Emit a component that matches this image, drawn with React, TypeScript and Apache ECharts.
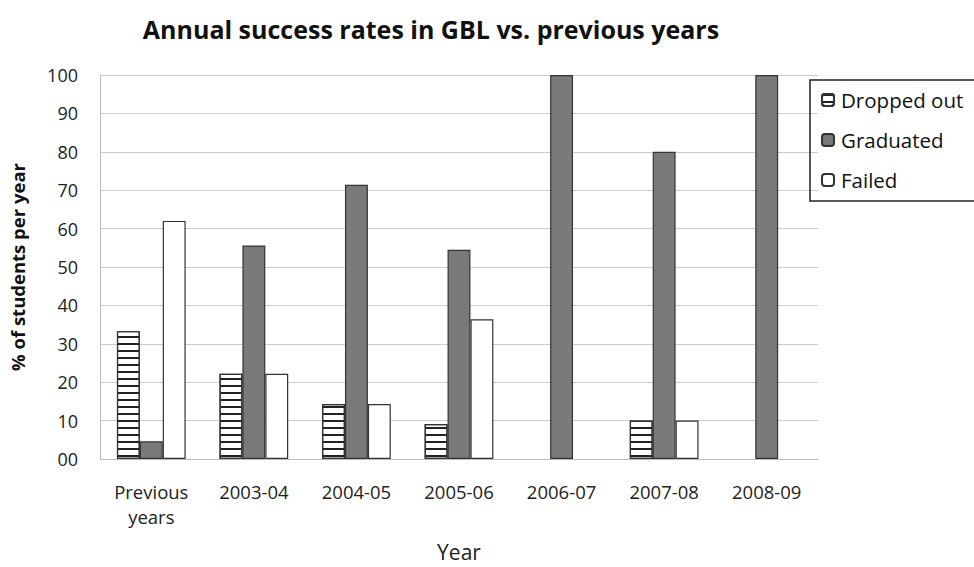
import React, { useEffect, useRef } from "react";
import * as echarts from "echarts";

const categories = ["Previous\nyears", "2003-04", "2004-05", "2005-06", "2006-07", "2007-08", "2008-09"];
const droppedOut = [33.3, 22.2, 14.3, 9.1, 0, 10, 0];
const graduated = [4.6, 55.6, 71.4, 54.5, 100, 80, 100];
const failed = [62, 22.2, 14.3, 36.4, 0, 10, 0];
const yTickLabels = ["00", "10", "20", "30", "40", "50", "60", "70", "80", "90", "100"];

const FONT = "'Open Sans', sans-serif";

const hideZero = (arr: number[]) => arr.map((v) => (v === 0 ? null : v));

export default function App() {
  const ref = useRef<HTMLDivElement>(null);
  useEffect(() => {
    if (!ref.current) return;
    const chart = echarts.init(ref.current, null, { renderer: "svg" });
    const border = { borderColor: "#333", borderWidth: 1.2 };
    chart.setOption({
      animation: false,
      backgroundColor: "#fff",
      title: {
        text: "Annual success rates in GBL vs. previous years",
        left: 426,
        textAlign: "center",
        top: 11,
        textStyle: { fontFamily: FONT, fontSize: 25, fontWeight: "bold", color: "#111" },
      },
      legend: {
        orient: "vertical",
        left: 810,
        top: 80,
        padding: [9, 30, 10, 11],
        itemGap: 18,
        itemWidth: 12,
        itemHeight: 12,
        borderColor: "#222",
        borderWidth: 1.5,
        textStyle: { fontFamily: FONT, fontSize: 20.5, color: "#111", padding: [0, 0, 0, 2], lineHeight: 22 },
        data: ["Dropped out", "Graduated", "Failed"],
      },
      grid: { left: 100, right: 156, top: 75, bottom: 107 },
      xAxis: {
        type: "category",
        data: categories,
        name: "Year",
        nameLocation: "middle",
        nameGap: 82,
        nameTextStyle: { fontFamily: FONT, fontSize: 21, color: "#222" },
        axisLine: { lineStyle: { color: "#bbb" } },
        axisTick: { show: false },
        axisLabel: { fontFamily: FONT, fontSize: 18.5, color: "#222", margin: 20, lineHeight: 25 },
      },
      yAxis: {
        type: "value",
        min: 0,
        max: 100,
        interval: 10,
        name: "% of students per year",
        nameLocation: "middle",
        nameGap: 73,
        nameTextStyle: { fontFamily: FONT, fontSize: 18.5, fontWeight: "bold", color: "#111" },
        axisLine: { show: true, lineStyle: { color: "#bbb" } },
        axisTick: { show: false },
        splitLine: { lineStyle: { color: "#ccc" } },
        axisLabel: {
          fontFamily: FONT,
          fontSize: 18,
          color: "#222",
          margin: 22,
          formatter: (v: number) => yTickLabels[Math.round(v / 10)] ?? String(v),
        },
      },
      series: [
        {
          name: "Dropped out",
          type: "bar",
          data: hideZero(droppedOut),
          barGap: "0%",
          barCategoryGap: "33%",
          itemStyle: {
            color: "#fff",
            ...border,
            decal: {
              symbol: "rect",
              symbolSize: 1,
              dashArrayX: [1, 0],
              dashArrayY: [1.6, 5],
              rotation: 0,
              color: "#222",
            },
          },
        },
        {
          name: "Graduated",
          type: "bar",
          data: hideZero(graduated),
          itemStyle: { color: "#7a7a7a", ...border },
        },
        {
          name: "Failed",
          type: "bar",
          data: hideZero(failed),
          itemStyle: { color: "#fff", ...border },
        },
      ],
    });
    return () => chart.dispose();
  }, []);
  return <div ref={ref} style={{ width: 974, height: 567, position: "absolute", left: 0, top: 0 }} />;
}
